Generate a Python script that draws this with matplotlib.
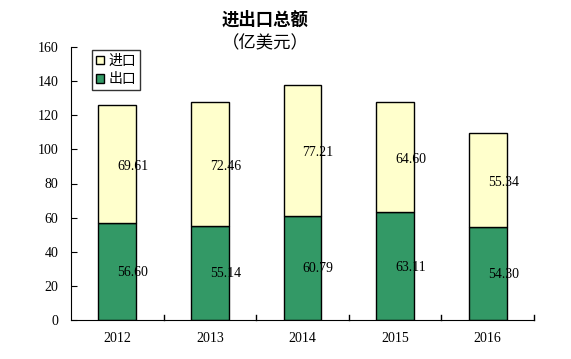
import matplotlib
matplotlib.use('Agg')
import matplotlib.pyplot as plt
import numpy as np

plt.rcParams['font.family'] = ['Noto Sans CJK SC', 'DejaVu Sans']

years = ['2012', '2013', '2014', '2015', '2016']
export = [56.60, 55.14, 60.79, 63.11, 54.30]
imports = [69.61, 72.46, 77.21, 64.60, 55.34]

fig = plt.figure(figsize=(5.71, 3.59), dpi=100)
ax = fig.add_axes([71/571, 1-320/359, (534-71)/571, (320-47)/359])

x = np.arange(len(years))
w = 0.41
ax.bar(x, export, w, color='#339966', edgecolor='black', linewidth=1, label='出口')
ax.bar(x, imports, w, bottom=export, color='#FFFFCC', edgecolor='black', linewidth=1, label='进口')

for i in range(len(years)):
    ax.text(x[i], export[i]/2 - 0.5, f'{export[i]:.2f}', ha='left', va='center', fontsize=10, family='Liberation Serif')
    ax.text(x[i], export[i] + imports[i]/2 - 1.5, f'{imports[i]:.2f}', ha='left', va='center', fontsize=10, family='Liberation Serif')

ax.set_xlim(-0.5, len(years)-0.5)
ax.set_ylim(0, 160)
ax.set_yticks(range(0, 161, 20))
ax.set_yticklabels([str(v) for v in range(0, 161, 20)], family='Liberation Serif')
ax.tick_params(axis='y', direction='in', length=4, labelsize=10, pad=9)
ax.set_xticks(x)
ax.set_xticklabels(years, fontsize=10, family='Liberation Serif')
ax.tick_params(axis='x', length=0, pad=9)
# category boundary ticks
for b in np.arange(0.5, len(years), 1.0):
    ax.plot([b, b], [0, 3], color='black', lw=1, clip_on=False)
ax.spines['top'].set_visible(False)
ax.spines['right'].set_visible(False)

handles, labels = ax.get_legend_handles_labels()
leg = ax.legend(handles[::-1], labels[::-1], loc='upper left', bbox_to_anchor=(0.045, 0.99),
                fontsize=10, frameon=True, fancybox=False, edgecolor='black',
                handlelength=0.6, handleheight=0.6, handletextpad=0.3, borderpad=0.3,
                labelspacing=0.3, borderaxespad=0)
leg.get_frame().set_linewidth(1)

fig.text(265/571, 1-20/359, '进出口总额', ha='center', va='center', fontsize=12.5, fontweight='bold')
fig.text(265/571, 1-43/359, '（亿美元）', ha='center', va='center', fontsize=12.5)

fig.savefig('out.png', dpi=100)
